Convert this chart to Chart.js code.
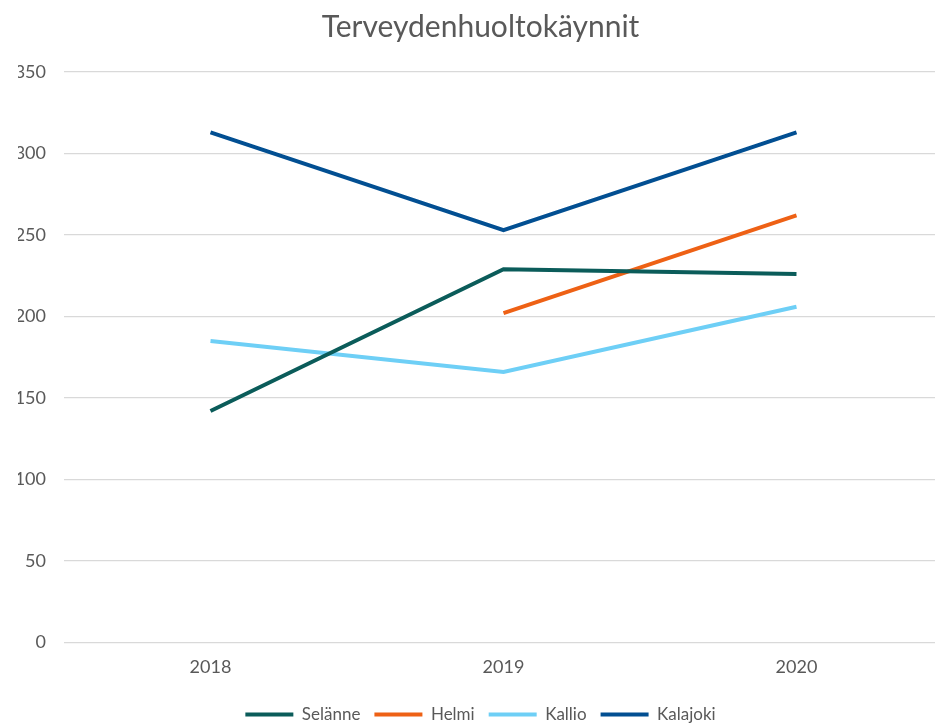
<!DOCTYPE html>
<html><head><meta charset="utf-8">
<script src="https://cdn.jsdelivr.net/npm/chart.js@4/dist/chart.umd.min.js"></script>
<style>html,body{margin:0;padding:0;background:#fff;overflow:hidden}</style>
</head><body>
<canvas id="c" width="943" height="728"></canvas>
<script>
const categories = ["2018", "2019", "2020"];
const selanne = [142, 229, 226];
const helmi = [null, 202, 262];
const kallio = [185, 166, 206];
const kalajoki = [313, 253, 313];
const yTicks = [0, 50, 100, 150, 200, 250, 300, 350];

const font = "Lato, 'Open Sans', sans-serif";
function ds(label, data, color) {
  return {label, data, borderColor: color, backgroundColor: color, borderWidth: 4,
    pointRadius: 0, fill: false, tension: 0, spanGaps: false};
}
new Chart(document.getElementById('c'), {
  type: 'line',
  data: {
    labels: categories,
    datasets: [
      ds('Selänne', selanne, '#0B5C5A'),
      ds('Helmi', helmi, '#EE6115'),
      ds('Kallio', kallio, '#6ECFF6'),
      ds('Kalajoki', kalajoki, '#024F92')
    ]
  },
  options: {
    responsive: false,
    animation: false,
    layout: {padding: {left: 18, right: 0, top: 5, bottom: -5}},
    plugins: {
      title: {display: true, text: 'Terveydenhuoltokäynnit', color: '#595959',
        font: {family: font, size: 30, weight: 'normal'}, padding: {top: 4, bottom: 27}},
      legend: {position: 'bottom',
        labels: {color: '#595959', font: {family: font, size: 17}, boxWidth: 48, boxHeight: 4, padding: 14,
          generateLabels(chart) {
            return chart.data.datasets.map((d, i) => ({text: d.label, fillStyle: d.borderColor,
              strokeStyle: d.borderColor, lineWidth: 0, hidden: false, datasetIndex: i, fontColor: '#595959'}));
          }}},
      tooltip: {enabled: false}
    },
    scales: {
      x: {offset: true, grid: {display: false, tickLength: 0}, border: {display: false},
        ticks: {color: '#595959', font: {family: font, size: 18}, padding: 14}},
      y: {min: 0, max: 350, afterBuildTicks(ax) { ax.ticks = yTicks.map(v => ({value: v})); },
        afterFit(ax) { ax.width = 46; },
        grid: {color: '#D9D9D9', lineWidth: 1.3, drawTicks: false, tickLength: 0}, border: {display: false},
        ticks: {color: '#595959', font: {family: font, size: 18}, padding: 18}}
    }
  }
});
</script>
</body></html>
